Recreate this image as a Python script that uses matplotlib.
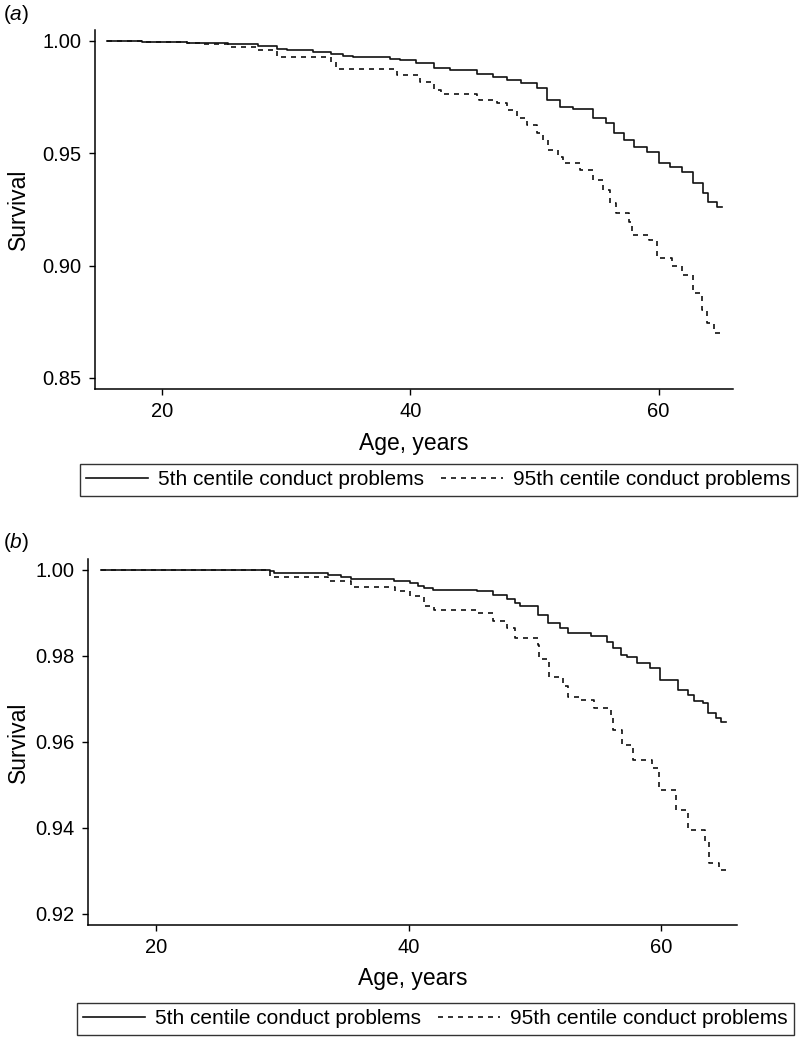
import numpy as np
import matplotlib
matplotlib.use("Agg")
import matplotlib.pyplot as plt

plt.rcParams['font.family'] = ['Liberation Sans', 'DejaVu Sans']
plt.rcParams['lines.scale_dashes'] = False
plt.rcParams['mathtext.fontset'] = 'custom'
plt.rcParams['mathtext.rm'] = 'Liberation Sans'
plt.rcParams['mathtext.it'] = 'Liberation Sans:italic'

# panel (a) - step points
a_age_5 = [15.6, 18.4, 22.0, 23.3, 25.3, 27.7, 29.3, 30.1, 32.2, 33.6, 34.6, 35.4,
           38.4, 39.2, 40.5, 41.9, 43.2, 45.4, 46.7, 47.8, 48.9, 50.2, 51.0, 52.1,
           53.1, 54.7, 55.8, 56.4, 57.2, 58.0, 59.1, 60.0, 60.9, 61.9, 62.8, 63.6,
           64.0, 64.7, 65.1]
a_surv_5 = [1.000, 0.9994, 0.9992, 0.9988, 0.9985, 0.9976, 0.9964, 0.9959, 0.9951,
            0.9941, 0.9933, 0.9929, 0.9917, 0.9914, 0.9900, 0.9877, 0.9870, 0.9852,
            0.9840, 0.9825, 0.9811, 0.9789, 0.9737, 0.9707, 0.9697, 0.9655, 0.9633,
            0.9589, 0.9559, 0.9529, 0.9507, 0.9455, 0.9440, 0.9418, 0.9366, 0.9322,
            0.9285, 0.9262, 0.9262]
a_age_95 = [15.6, 18.7, 22.0, 23.3, 25.3, 27.7, 29.3, 33.6, 34.0, 38.9, 40.8, 41.9,
            42.5, 45.4, 45.5, 47.0, 47.8, 48.6, 49.4, 50.2, 50.7, 51.1, 51.9, 52.3,
            53.7, 54.7, 55.5, 56.1, 56.6, 57.6, 57.9, 59.2, 59.9, 61.1, 61.9, 62.8,
            63.5, 63.9, 64.5, 65.1]
a_surv_95 = [1.000, 0.9993, 0.9988, 0.9984, 0.9973, 0.9959, 0.9926, 0.9907, 0.9874,
             0.9848, 0.9818, 0.9781, 0.9763, 0.9751, 0.9737, 0.9722, 0.9692, 0.9655,
             0.9625, 0.9589, 0.9559, 0.9514, 0.9485, 0.9455, 0.9426, 0.9381, 0.9336,
             0.9278, 0.9233, 0.9196, 0.9137, 0.9114, 0.9033, 0.8996, 0.8959, 0.8878,
             0.8803, 0.8744, 0.8700, 0.8685]

# panel (b)
b_age_5 = [15.6, 29.0, 29.3, 33.6, 34.6, 35.4, 38.8, 40.1, 40.7, 41.2, 41.9, 45.4,
           46.7, 47.8, 48.4, 48.8, 50.2, 51.0, 52.0, 52.6, 54.4, 55.7, 56.2, 56.8,
           57.3, 58.1, 59.1, 59.9, 61.3, 62.1, 62.6, 63.3, 63.7, 64.3, 64.7, 65.1]
b_surv_5 = [1.000, 0.9996, 0.9993, 0.9988, 0.9984, 0.9978, 0.9974, 0.9969, 0.9963,
            0.9957, 0.9953, 0.9950, 0.9942, 0.9933, 0.9923, 0.9916, 0.9895, 0.9876,
            0.9864, 0.9854, 0.9847, 0.9833, 0.9818, 0.9802, 0.9797, 0.9783, 0.9771,
            0.9744, 0.9721, 0.9709, 0.9694, 0.9690, 0.9667, 0.9655, 0.9647, 0.9647]
b_age_95 = [15.6, 29.0, 33.6, 35.4, 38.9, 40.1, 41.2, 42.0, 45.4, 46.7, 47.8, 48.4,
            50.2, 50.3, 51.1, 52.2, 52.6, 53.6, 54.7, 56.0, 56.2, 56.9, 57.8, 59.3,
            59.8, 61.2, 62.1, 63.5, 63.8, 64.6, 65.1]
b_surv_95 = [1.000, 0.9984, 0.9974, 0.9959, 0.9950, 0.9938, 0.9916, 0.9907, 0.9899,
             0.9880, 0.9864, 0.9841, 0.9826, 0.9792, 0.9750, 0.9729, 0.9705, 0.9698,
             0.9678, 0.9659, 0.9628, 0.9593, 0.9558, 0.9539, 0.9488, 0.9442, 0.9395,
             0.9368, 0.9318, 0.9302, 0.9298]

x_ticks = [20, 40, 60]
a_yticks = [0.85, 0.90, 0.95, 1.00]
b_yticks = [0.92, 0.94, 0.96, 0.98, 1.00]
labels = ["5th centile conduct problems", "95th centile conduct problems"]

W, H = 800, 1037
fig = plt.figure(figsize=(W / 100, H / 100), dpi=100)


def px(x0, y0, x1, y1):
    # pixel box -> figure fraction rect
    return [x0 / W, 1 - y1 / H, (x1 - x0) / W, (y1 - y0) / H]


def panel(rect, age5, s5, age95, s95, yticks, ylim, tag, tag_y, label_y, leg_box):
    ax = fig.add_axes(rect)
    l1, = ax.step(age5, s5, where='post', color='#111111', lw=1.2)
    l2, = ax.step(age95, s95, where='post', color='#111111', lw=1.2,
                  linestyle=(0, (3.6, 3.6)))
    ax.set_xlim(14.6, 66.0)
    ax.set_ylim(*ylim)
    ax.set_xticks(x_ticks)
    ax.set_yticks(yticks)
    ax.set_yticklabels(["%.2f" % v for v in yticks])
    for s in ['top', 'right']:
        ax.spines[s].set_visible(False)
    for s in ['left', 'bottom']:
        ax.spines[s].set_linewidth(1.1)
    ax.tick_params(length=4.5, width=1.0, labelsize=14.5, pad=5)
    fig.text(3 / W, 1 - tag_y / H, "($\\it{%s}$)" % tag, fontsize=15,
             va='center', ha='left')
    pos = ax.get_position()
    fig.text(18 / W, pos.y0 + pos.height / 2, "Survival", rotation=90,
             fontsize=16.5, va='center', ha='center')
    fig.text(pos.x0 + pos.width / 2, 1 - label_y / H, "Age, years",
             fontsize=16.5, va='center', ha='center')
    leg = fig.legend([l1, l2], labels, ncol=2, loc='upper right',
                     bbox_to_anchor=(leg_box[0] / W, 1 - leg_box[1] / H),
                     fontsize=15, frameon=True, fancybox=False, edgecolor='black',
                     handlelength=2.98, handletextpad=0.48, columnspacing=0.8,
                     borderpad=0.3, borderaxespad=0)
    leg.get_frame().set_linewidth(1.0)
    return ax


panel(px(95, 30, 733, 389), a_age_5, a_surv_5, a_age_95, a_surv_95,
      a_yticks, (0.8451, 1.0048), "a", 15, 443, (797, 464))
panel(px(88, 559, 737, 925), b_age_5, b_surv_5, b_age_95, b_surv_95,
      b_yticks, (0.9174, 1.0025), "b", 543, 978, (794, 1003))

plt.savefig("out.png", dpi=100)
